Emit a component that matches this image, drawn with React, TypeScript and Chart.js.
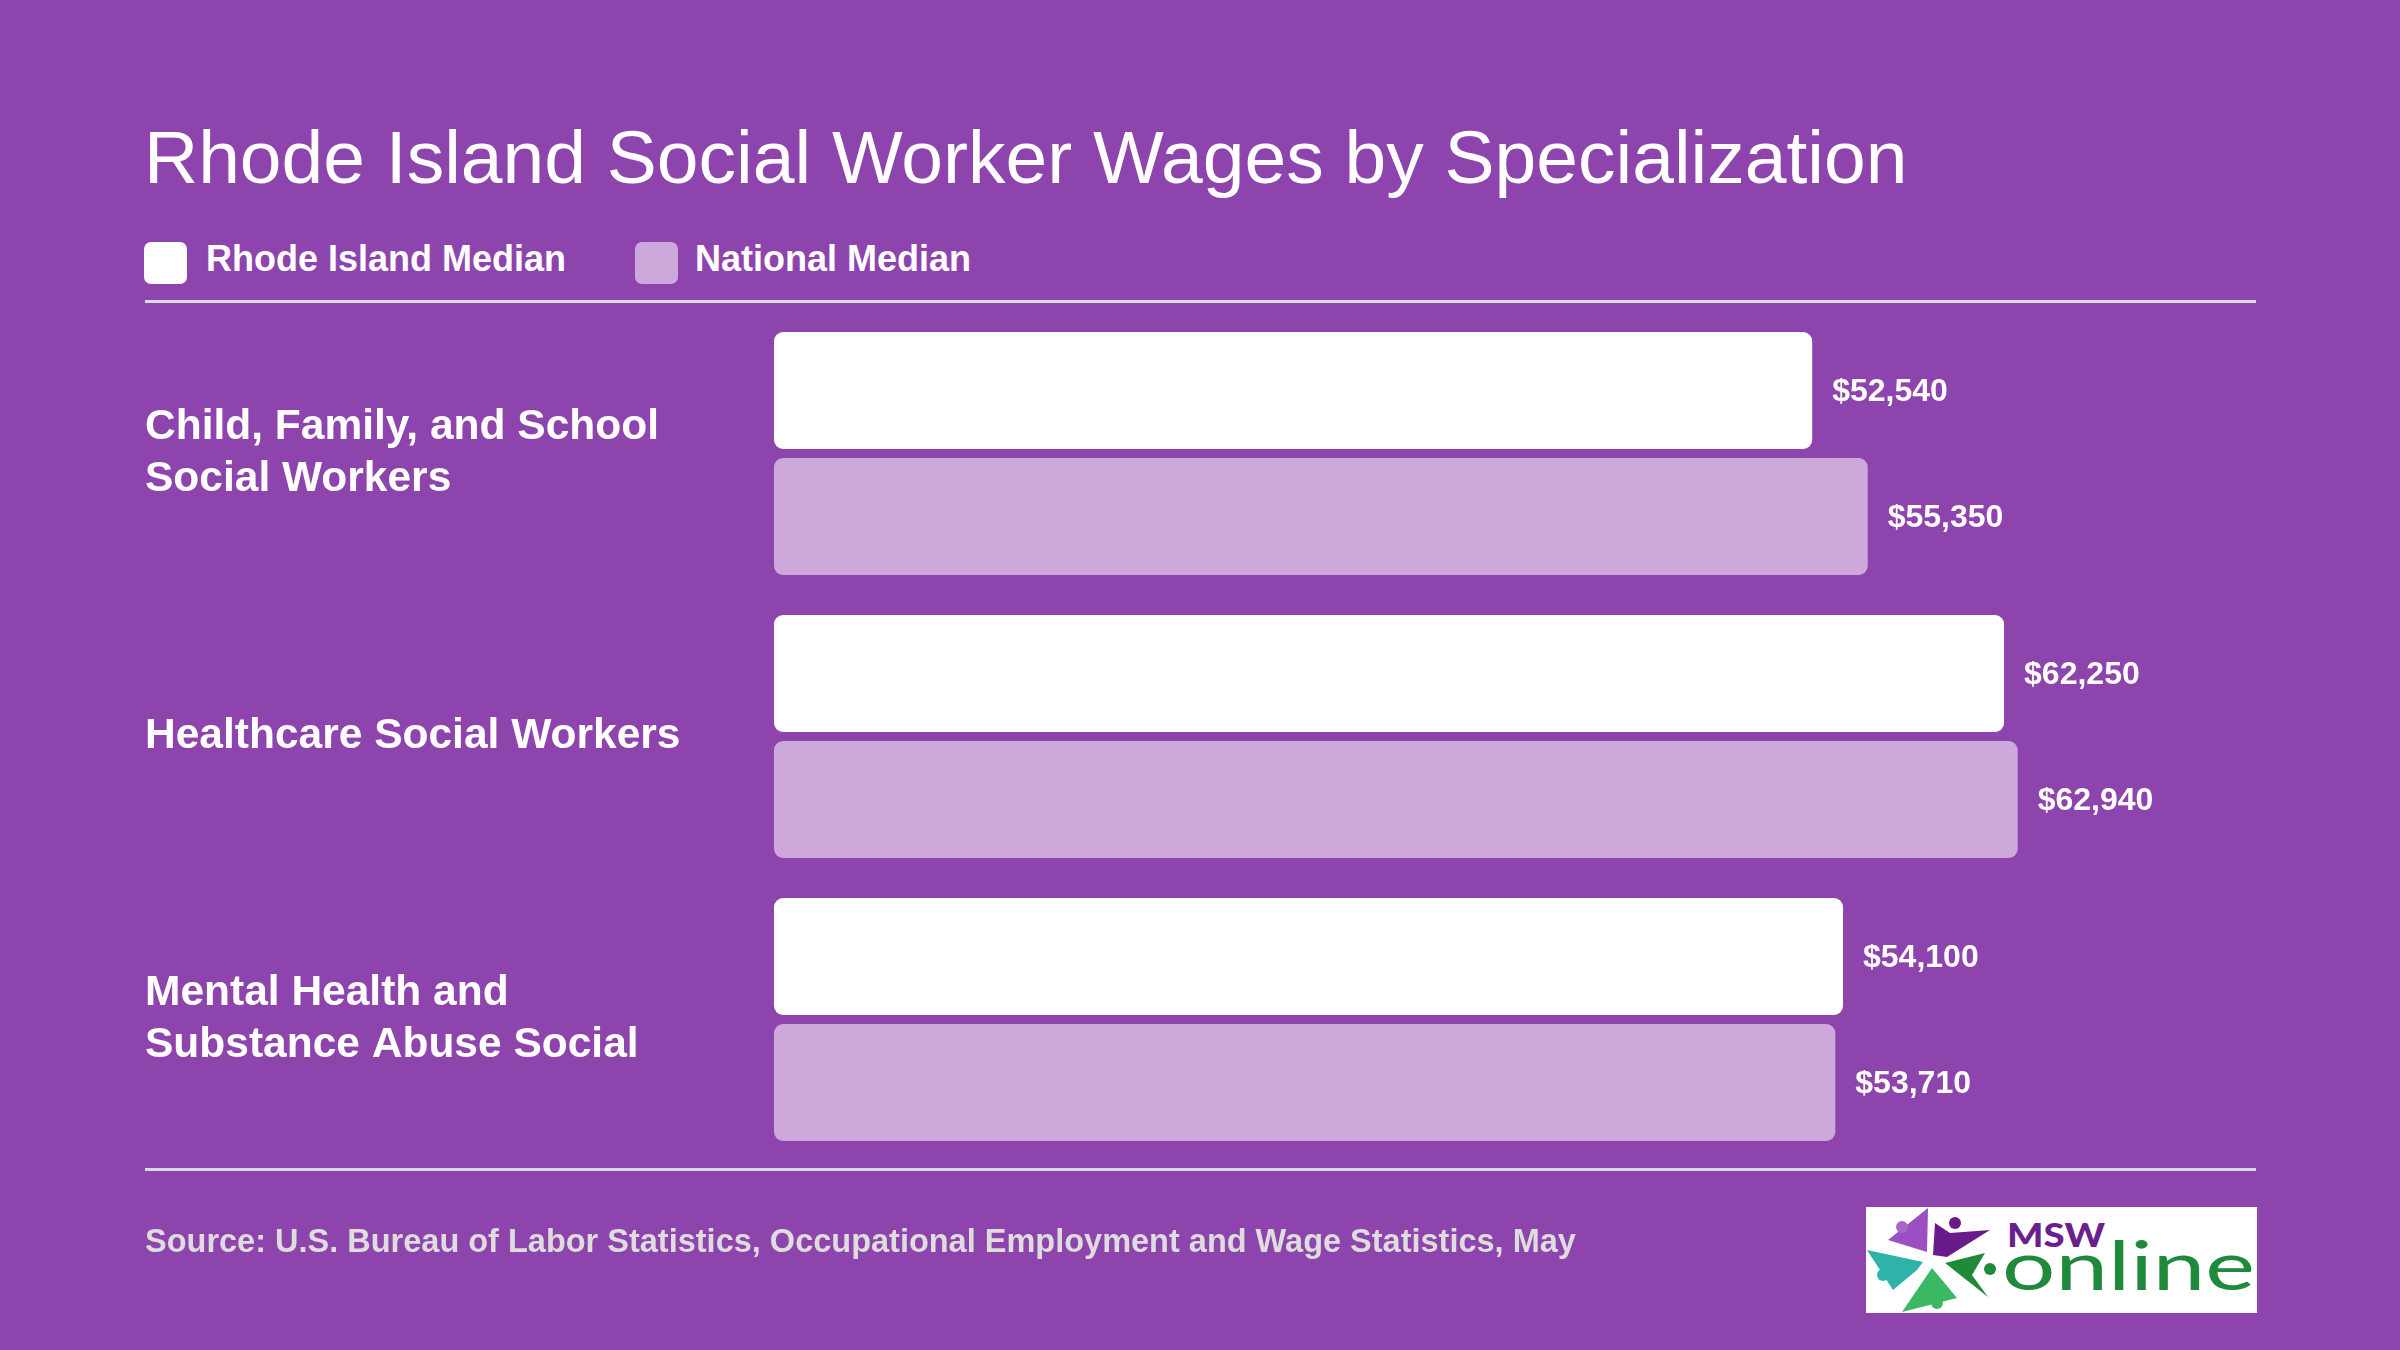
import React, { useEffect, useRef } from "react";
import { Chart, registerables } from "chart.js";

Chart.register(...registerables);

// ---- Data ----
const categories: string[][] = [
  ["Child, Family, and School", "Social Workers"],
  ["Healthcare Social Workers"],
  ["Mental Health and", "Substance Abuse Social"],
];
const seriesNames = ["Rhode Island Median", "National Median"];
const rhodeIslandMedian = [52540, 62250, 54100];
const nationalMedian = [55350, 62940, 53710];
const axisMin = 0;
const axisMax = 75000;

const titleText = "Rhode Island Social Worker Wages by Specialization";
const sourceText =
  "Source: U.S. Bureau of Labor Statistics, Occupational Employment and Wage Statistics, May";

// ---- Style ----
const BG = "#8E44AD";
const RI_COLOR = "#FFFFFF";
const NAT_COLOR = "#CDA9DB";
const RULE_COLOR = "#DCDCE0";
const FONT = '"Liberation Sans", Arial, Helvetica, sans-serif';

const valueLabels = {
  id: "valueLabels",
  afterDatasetsDraw(chart: any) {
    const ctx = chart.ctx;
    ctx.save();
    ctx.font = `bold 32px ${FONT}`;
    ctx.fillStyle = "#FFFFFF";
    ctx.textBaseline = "middle";
    ctx.textAlign = "left";
    chart.data.datasets.forEach((ds: any, i: number) => {
      const meta = chart.getDatasetMeta(i);
      meta.data.forEach((el: any, j: number) => {
        const v = ds.data[j] as number;
        ctx.fillText("$" + v.toLocaleString("en-US"), el.x + 20, el.y + 2);
      });
    });
    ctx.restore();
  },
};

function Logo() {
  return (
    <svg
      width={391}
      height={106}
      style={{ position: "absolute", left: 1866, top: 1207 }}
    >
      <rect x={0} y={0} width={391} height={106} fill="#FFFFFF" />
      <polygon points="62,1 22,33 61,45" fill="#9B4FC2" />
      <circle cx={36} cy={20} r={6} fill="#A866CC" />
      <polygon points="69,16 84,26 124,23 81,50 67,48" fill="#6A1B8A" />
      <circle cx={89} cy={16} r={6} fill="#6A1B8A" />
      <polygon points="1,43 57,55 51,63 27,83" fill="#2DB3A8" />
      <circle cx={17} cy={68} r={6} fill="#2DB3A8" />
      <polygon points="36,105 66,61 91,91" fill="#3BB862" />
      <circle cx={71} cy={96} r={6} fill="#3BB862" />
      <polygon points="79,56 119,46 106,68 122,90" fill="#1E8A3A" />
      <circle cx={124} cy={62} r={6} fill="#1E8A3A" />
      <text
        x={141}
        y={40}
        fontFamily="Lato, 'DejaVu Sans', sans-serif"
        fontWeight={900}
        fontSize={33}
        fill="#6B1E8E"
        textLength={98}
        lengthAdjust="spacingAndGlyphs"
      >
        MSW
      </text>
      <text
        x={136}
        y={83}
        fontFamily="Lato, 'DejaVu Sans', sans-serif"
        fontSize={68}
        fill="#1F8A3B"
        textLength={253}
        lengthAdjust="spacingAndGlyphs"
      >
        online
      </text>
    </svg>
  );
}

export default function App() {
  const canvasRef = useRef<HTMLCanvasElement | null>(null);

  useEffect(() => {
    if (!canvasRef.current) return;
    const chart = new Chart(canvasRef.current, {
      type: "bar",
      data: {
        labels: categories,
        datasets: [
          {
            label: seriesNames[0],
            data: rhodeIslandMedian,
            backgroundColor: RI_COLOR,
            borderRadius: 9,
            borderSkipped: false,
            barPercentage: 0.9286,
            categoryPercentage: 0.8905,
          },
          {
            label: seriesNames[1],
            data: nationalMedian,
            backgroundColor: NAT_COLOR,
            borderRadius: 9,
            borderSkipped: false,
            barPercentage: 0.9286,
            categoryPercentage: 0.8905,
          },
        ],
      },
      options: {
        indexAxis: "y",
        responsive: false,
        animation: false,
        devicePixelRatio: 1,
        layout: { padding: { left: 145, right: 144, top: 312, bottom: 189 } },
        plugins: {
          legend: { display: false },
          title: { display: false },
          tooltip: { enabled: false },
        },
        scales: {
          x: { display: false, min: axisMin, max: axisMax },
          y: {
            grid: { display: false },
            border: { display: false },
            ticks: {
              color: "#FFFFFF",
              crossAlign: "far",
              padding: 0,
              font: { family: FONT, size: 42.5, weight: "bold", lineHeight: 1.23 },
            },
            afterFit(scale: any) {
              scale.width = 629;
            },
          },
        },
      } as any,
      plugins: [valueLabels],
    });
    return () => chart.destroy();
  }, []);

  const legendItems = [
    { name: seriesNames[0], color: RI_COLOR, box: 144, text: 206 },
    { name: seriesNames[1], color: NAT_COLOR, box: 635, text: 695 },
  ];

  return (
    <div
      style={{
        position: "absolute",
        left: 0,
        top: 0,
        width: 2400,
        height: 1350,
        background: BG,
        overflow: "hidden",
        fontFamily: FONT,
      }}
    >
      <div
        style={{
          position: "absolute",
          left: 144,
          top: 120,
          fontSize: 75,
          lineHeight: "75px",
          color: "#FFFFFF",
          whiteSpace: "nowrap",
        }}
      >
        {titleText}
      </div>
      {legendItems.map((it) => (
        <React.Fragment key={it.name}>
          <div
            style={{
              position: "absolute",
              left: it.box,
              top: 242,
              width: 43,
              height: 42,
              borderRadius: 7,
              background: it.color,
            }}
          />
          <div
            style={{
              position: "absolute",
              left: it.text,
              top: 241,
              fontSize: 36,
              lineHeight: "36px",
              fontWeight: "bold",
              color: "#FFFFFF",
              whiteSpace: "nowrap",
            }}
          >
            {it.name}
          </div>
        </React.Fragment>
      ))}
      <div
        style={{
          position: "absolute",
          left: 145,
          top: 300,
          width: 2111,
          height: 3,
          background: RULE_COLOR,
        }}
      />
      <canvas
        ref={canvasRef}
        width={2400}
        height={1350}
        style={{ position: "absolute", left: 0, top: 0, width: 2400, height: 1350 }}
      />
      <div
        style={{
          position: "absolute",
          left: 145,
          top: 1168,
          width: 2111,
          height: 3,
          background: RULE_COLOR,
        }}
      />
      <div
        style={{
          position: "absolute",
          left: 145,
          top: 1225,
          fontSize: 32.5,
          lineHeight: "32.5px",
          fontWeight: "bold",
          color: "#DDDDDD",
          whiteSpace: "nowrap",
        }}
      >
        {sourceText}
      </div>
      <Logo />
    </div>
  );
}
